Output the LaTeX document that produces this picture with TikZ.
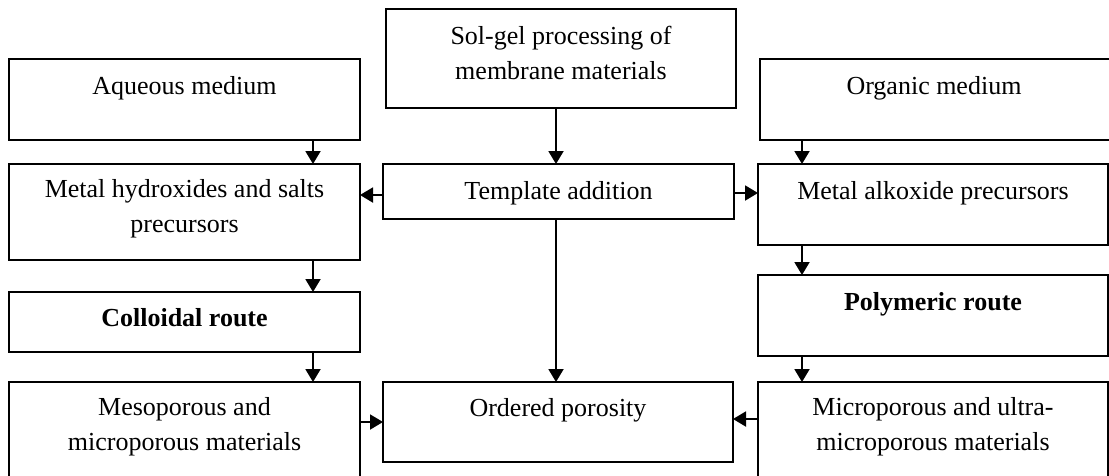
\documentclass[tikz,border=0pt]{standalone}
\usepackage{fontspec}
\setmainfont{Liberation Serif}
\usetikzlibrary{arrows.meta}
\begin{document}
\begin{tikzpicture}[x=1pt,y=-1pt,
  box/.style={draw, line width=1.9pt, anchor=north west, inner sep=0pt, outer sep=0pt},
  lbl/.style={font=\fontsize{26}{35}\selectfont, align=center, inner sep=0pt, anchor=north},
  arr/.style={line width=1.9pt, -{Triangle[width=15pt,length=13pt]}}]
\useasboundingbox (0,0) rectangle (1109,475);
% boxes
\node[box, minimum width=350pt, minimum height=99pt] (sg) at (386,9) {};
\node[box, minimum width=351pt, minimum height=81pt] (aq) at (9,59) {};
\node[box, minimum width=352pt, minimum height=81pt] (org) at (760,59) {};
\node[box, minimum width=351pt, minimum height=96pt] (hyd) at (9,164) {};
\node[box, minimum width=351pt, minimum height=55pt] (tmp) at (383,164) {};
\node[box, minimum width=350pt, minimum height=81pt] (alk) at (758,164) {};
\node[box, minimum width=351pt, minimum height=60pt] (col) at (9,292) {};
\node[box, minimum width=350pt, minimum height=81pt] (pol) at (758,275) {};
\node[box, minimum width=351pt, minimum height=110pt] (meso) at (9,382) {};
\node[box, minimum width=350pt, minimum height=80pt] (ord) at (383,382) {};
\node[box, minimum width=350pt, minimum height=110pt] (micro) at (758,382) {};
% labels
\node[lbl] (sgt) at ([yshift=-10.5pt]sg.north) {\strut Sol-gel processing of\\membrane materials};
\node[lbl] (aqt) at ([yshift=-10.5pt]aq.north) {\strut Aqueous medium};
\node[lbl] (orgt) at ([yshift=-10.5pt,xshift=-2pt]org.north) {\strut Organic medium};
\node[lbl] (hydt) at ([yshift=-9pt]hyd.north) {\strut Metal hydroxides and salts\\precursors};
\node[lbl] (tmpt) at ([yshift=-10.5pt]tmp.north) {\strut Template addition};
\node[lbl] (alkt) at ([yshift=-10.5pt]alk.north) {\strut Metal alkoxide precursors};
\node[lbl] (colt) at ([yshift=-10pt]col.north) {\strut\textbf{Colloidal route}};
\node[lbl] (polt) at ([yshift=-10.5pt]pol.north) {\strut\textbf{Polymeric route}};
\node[lbl] (mesot) at ([yshift=-9pt]meso.north) {\strut Mesoporous and\\microporous materials};
\node[lbl] (ordt) at ([yshift=-10pt]ord.north) {\strut Ordered porosity};
\node[lbl] (microt) at ([yshift=-9pt]micro.north) {\strut Microporous and ultra-\\microporous materials};
% connector guides
\coordinate (xl) at (313,0);
\coordinate (xc) at (556,0);
\coordinate (xr) at (802,0);
\coordinate (yl) at (0,195);
\coordinate (yr) at (0,193);
\coordinate (ybl) at (0,422);
\coordinate (ybr) at (0,419);
% connectors
\draw[arr] (aq.south -| xl) -- (hyd.north -| xl);
\draw[arr] (org.south -| xr) -- (alk.north -| xr);
\draw[arr] (sg.south -| xc) -- (tmp.north -| xc);
\draw[arr] (tmp.west |- yl) -- (hyd.east |- yl);
\draw[arr] (tmp.east |- yr) -- (alk.west |- yr);
\draw[arr] (hyd.south -| xl) -- (col.north -| xl);
\draw[arr] (alk.south -| xr) -- (pol.north -| xr);
\draw[arr] (col.south -| xl) -- (meso.north -| xl);
\draw[arr] (pol.south -| xr) -- (micro.north -| xr);
\draw[arr] (tmp.south -| xc) -- (ord.north -| xc);
\draw[arr] (meso.east |- ybl) -- (ord.west |- ybl);
\draw[arr] (micro.west |- ybr) -- (ord.east |- ybr);
\end{tikzpicture}
\end{document}
